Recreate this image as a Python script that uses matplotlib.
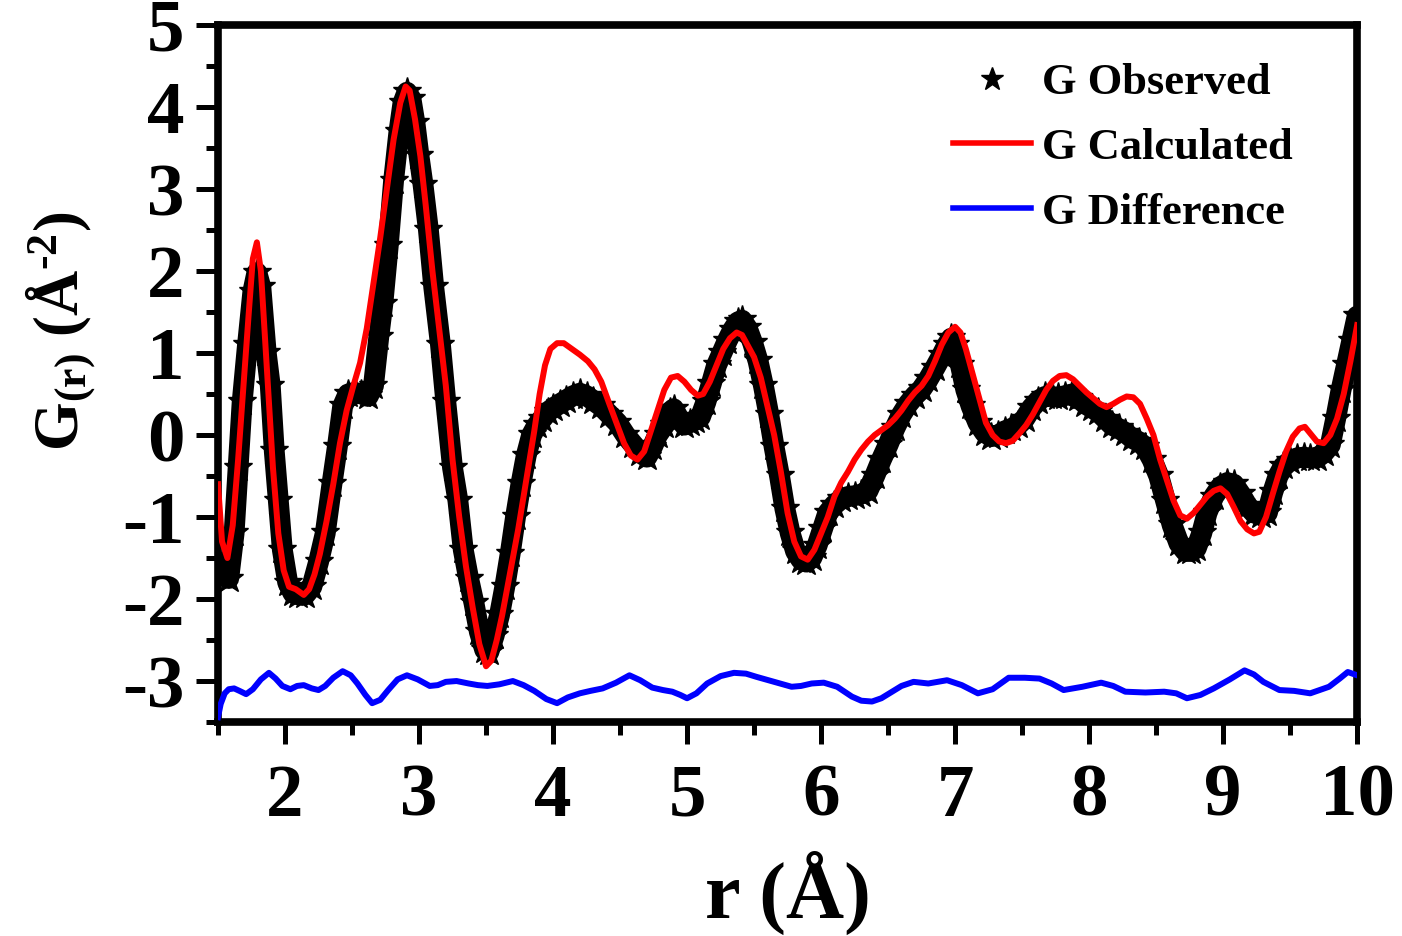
import matplotlib
matplotlib.use("Agg")
from matplotlib import pyplot as plt
from matplotlib.ticker import MultipleLocator
from matplotlib.lines import Line2D

# ---- data ----
r_obs = [1.50, 1.55, 1.58, 1.62, 1.65, 1.68, 1.72, 1.76, 1.79, 1.82, 1.86, 1.89, 1.92, 1.95, 1.98,
         2.02, 2.06, 2.10, 2.15, 2.20, 2.25, 2.30, 2.35, 2.39, 2.43, 2.47, 2.52, 2.57, 2.62, 2.66,
         2.70, 2.73, 2.77, 2.81, 2.85, 2.88, 2.91, 2.94, 2.97, 3.00, 3.03, 3.07, 3.11, 3.16, 3.20,
         3.25, 3.29, 3.33, 3.37, 3.41, 3.45, 3.49, 3.52, 3.56, 3.60, 3.64, 3.68, 3.72, 3.76, 3.80,
         3.84, 3.88, 3.92, 3.96, 4.00, 4.05, 4.10, 4.15, 4.20, 4.25, 4.30, 4.36, 4.42, 4.48, 4.54,
         4.60, 4.65, 4.70, 4.74, 4.78, 4.83, 4.87, 4.90, 4.94, 4.98, 5.02, 5.06, 5.10, 5.14, 5.18,
         5.22, 5.26, 5.30, 5.34, 5.38, 5.41, 5.45, 5.49, 5.53, 5.57, 5.61, 5.65, 5.69, 5.73, 5.77,
         5.81, 5.85, 5.89, 5.93, 5.97, 6.01, 6.05, 6.10, 6.15, 6.20, 6.25, 6.30, 6.35, 6.40, 6.45,
         6.50, 6.55, 6.60, 6.65, 6.70, 6.75, 6.80, 6.85, 6.90, 6.94, 6.97, 7.00, 7.04, 7.08, 7.12,
         7.17, 7.22, 7.27, 7.32, 7.37, 7.42, 7.47, 7.52, 7.57, 7.62, 7.67, 7.72, 7.77, 7.82, 7.87,
         7.92, 7.97, 8.02, 8.07, 8.12, 8.17, 8.22, 8.27, 8.32, 8.37, 8.42, 8.47, 8.52, 8.57, 8.62,
         8.67, 8.72, 8.76, 8.80, 8.84, 8.88, 8.93, 8.98, 9.03, 9.08, 9.13, 9.18, 9.23, 9.28, 9.33,
         9.37, 9.41, 9.45, 9.50, 9.55, 9.60, 9.65, 9.70, 9.75, 9.80, 9.84, 9.88, 9.92, 9.96, 10.00]
g_obs = [-1.55, -1.72, -1.75, -1.20, -0.40, 0.40, 1.10, 1.75, 1.98, 1.80, 1.00, 0.60, -0.20, -0.80, -1.40,
         -1.80, -1.93, -1.95, -1.95, -1.85, -1.55, -1.20, -0.60, -0.15, 0.35, 0.50, 0.52, 0.50, 0.47, 0.60,
         1.20, 1.60, 2.30, 3.10, 3.70, 4.05, 4.18, 4.10, 3.80, 3.40, 3.05, 2.50, 1.80, 1.10, 0.40,
         -0.40, -0.80, -1.40, -1.75, -2.05, -2.40, -2.62, -2.65, -2.45, -2.20, -1.85, -1.45, -1.00, -0.60, -0.25,
         0.00, 0.12, 0.20, 0.28, 0.33, 0.38, 0.43, 0.48, 0.51, 0.48, 0.42, 0.35, 0.25, 0.15, 0.00,
         -0.12, -0.22, -0.27, -0.15, 0.00, 0.12, 0.28, 0.32, 0.20, 0.12, 0.15, 0.18, 0.22, 0.40, 0.62,
         0.85, 1.00, 1.15, 1.28, 1.38, 1.40, 1.30, 1.12, 0.90, 0.60, 0.25, -0.15, -0.50, -0.90, -1.20,
         -1.42, -1.52, -1.55, -1.50, -1.35, -1.15, -0.95, -0.85, -0.78, -0.75, -0.74, -0.72, -0.68, -0.50, -0.30,
         -0.12, 0.08, 0.25, 0.38, 0.48, 0.56, 0.68, 0.82, 0.97, 1.10, 1.18, 1.10, 0.85, 0.55, 0.35,
         0.15, 0.03, -0.02, 0.00, 0.05, 0.08, 0.12, 0.20, 0.33, 0.42, 0.47, 0.47, 0.46, 0.48, 0.50,
         0.45, 0.38, 0.33, 0.28, 0.20, 0.12, 0.08, 0.03, -0.04, -0.08, -0.15, -0.30, -0.50, -0.80, -1.10,
         -1.32, -1.42, -1.42, -1.38, -1.20, -0.95, -0.75, -0.63, -0.58, -0.60, -0.72, -0.86, -0.95, -0.98, -0.95,
         -0.70, -0.50, -0.38, -0.32, -0.28, -0.27, -0.28, -0.28, -0.22, -0.12, 0.20, 0.55, 0.85, 1.15, 1.45]

r_calc = [1.50, 1.53, 1.57, 1.61, 1.65, 1.69, 1.73, 1.76, 1.79, 1.82, 1.85, 1.88, 1.91, 1.95, 1.99,
          2.03, 2.08, 2.14, 2.18, 2.22, 2.26, 2.31, 2.36, 2.41, 2.46, 2.51, 2.56, 2.61, 2.66, 2.71,
          2.76, 2.81, 2.86, 2.90, 2.93, 2.97, 3.01, 3.05, 3.10, 3.15, 3.20, 3.25, 3.30, 3.35, 3.40,
          3.45, 3.50, 3.54, 3.58, 3.62, 3.66, 3.70, 3.74, 3.78, 3.82, 3.86, 3.90, 3.94, 3.98, 4.03,
          4.08, 4.14, 4.20, 4.26, 4.31, 4.36, 4.42, 4.48, 4.53, 4.58, 4.63, 4.68, 4.73, 4.78, 4.83,
          4.88, 4.93, 4.98, 5.03, 5.08, 5.12, 5.17, 5.22, 5.27, 5.32, 5.37, 5.41, 5.45, 5.50, 5.55,
          5.60, 5.65, 5.70, 5.75, 5.80, 5.85, 5.90, 5.95, 6.00, 6.05, 6.10, 6.15, 6.20, 6.25, 6.30,
          6.35, 6.40, 6.45, 6.50, 6.55, 6.60, 6.65, 6.70, 6.75, 6.80, 6.85, 6.90, 6.95, 7.00, 7.04,
          7.08, 7.13, 7.18, 7.23, 7.28, 7.33, 7.38, 7.43, 7.48, 7.53, 7.58, 7.63, 7.68, 7.73, 7.78,
          7.83, 7.88, 7.93, 7.98, 8.03, 8.08, 8.13, 8.18, 8.23, 8.28, 8.33, 8.38, 8.43, 8.48, 8.53,
          8.58, 8.63, 8.68, 8.73, 8.78, 8.83, 8.88, 8.93, 8.98, 9.03, 9.08, 9.13, 9.18, 9.23, 9.27,
          9.32, 9.37, 9.42, 9.47, 9.52, 9.57, 9.61, 9.65, 9.70, 9.75, 9.80, 9.85, 9.90, 9.95, 10.00]
g_calc = [-0.60, -1.30, -1.50, -1.10, -0.30, 0.60, 1.50, 2.15, 2.35, 2.00, 1.20, 0.40, -0.40, -1.20, -1.65,
          -1.85, -1.88, -1.95, -1.88, -1.70, -1.45, -1.05, -0.60, -0.10, 0.30, 0.60, 0.88, 1.30, 1.85, 2.40,
          3.00, 3.60, 4.05, 4.25, 4.20, 3.85, 3.40, 2.80, 2.00, 1.30, 0.60, -0.30, -1.00, -1.60, -2.10,
          -2.55, -2.82, -2.75, -2.50, -2.20, -1.85, -1.50, -1.15, -0.75, -0.35, 0.05, 0.50, 0.85, 1.05, 1.12,
          1.12, 1.05, 0.98, 0.90, 0.80, 0.65, 0.38, 0.12, -0.10, -0.25, -0.30, -0.20, 0.05, 0.30, 0.55,
          0.70, 0.72, 0.65, 0.55, 0.48, 0.50, 0.65, 0.85, 1.05, 1.18, 1.25, 1.22, 1.10, 0.95, 0.70,
          0.35, 0.00, -0.45, -0.95, -1.30, -1.48, -1.52, -1.40, -1.20, -1.00, -0.75, -0.58, -0.45, -0.30, -0.18,
          -0.08, 0.00, 0.06, 0.12, 0.20, 0.30, 0.42, 0.52, 0.60, 0.72, 0.90, 1.10, 1.25, 1.32, 1.25,
          1.05, 0.75, 0.45, 0.15, 0.00, -0.08, -0.10, -0.07, 0.02, 0.12, 0.25, 0.40, 0.55, 0.66, 0.72,
          0.73, 0.68, 0.60, 0.52, 0.45, 0.38, 0.34, 0.38, 0.43, 0.47, 0.46, 0.38, 0.20, 0.00, -0.30,
          -0.55, -0.80, -0.98, -1.02, -0.95, -0.85, -0.75, -0.68, -0.65, -0.72, -0.88, -1.05, -1.15, -1.20, -1.18,
          -1.00, -0.72, -0.45, -0.20, -0.02, 0.08, 0.10, 0.02, -0.08, -0.10, 0.00, 0.20, 0.50, 0.90, 1.34]

r_diff = [1.50, 1.52, 1.55, 1.58, 1.62, 1.66, 1.71, 1.76, 1.82, 1.88, 1.93, 1.98, 2.04, 2.09, 2.14,
          2.20, 2.25, 2.30, 2.36, 2.43, 2.49, 2.54, 2.60, 2.65, 2.71, 2.77, 2.84, 2.91, 2.99, 3.08,
          3.14, 3.20, 3.28, 3.37, 3.44, 3.51, 3.60, 3.70, 3.78, 3.86, 3.95, 4.03, 4.11, 4.20, 4.28,
          4.37, 4.47, 4.57, 4.65, 4.74, 4.82, 4.89, 4.95, 5.00, 5.07, 5.15, 5.25, 5.35, 5.44, 5.52,
          5.65, 5.78, 5.85, 5.93, 6.02, 6.12, 6.23, 6.30, 6.38, 6.45, 6.51, 6.60, 6.69, 6.80, 6.94,
          7.05, 7.17, 7.28, 7.40, 7.52, 7.63, 7.72, 7.81, 7.95, 8.09, 8.18, 8.27, 8.42, 8.56, 8.65,
          8.73, 8.83, 8.93, 9.05, 9.16, 9.23, 9.30, 9.42, 9.53, 9.65, 9.79, 9.87, 9.93, 10.00]
g_diff = [-3.44, -3.28, -3.15, -3.10, -3.09, -3.12, -3.16, -3.10, -2.98, -2.90, -2.97, -3.06, -3.10, -3.06, -3.05,
          -3.09, -3.11, -3.06, -2.96, -2.88, -2.93, -3.03, -3.17, -3.27, -3.23, -3.11, -2.98, -2.93, -2.98, -3.06,
          -3.05, -3.01, -3.00, -3.03, -3.05, -3.06, -3.04, -3.00, -3.05, -3.12, -3.22, -3.27, -3.20, -3.15, -3.12,
          -3.09, -3.02, -2.93, -2.99, -3.08, -3.11, -3.13, -3.17, -3.21, -3.15, -3.03, -2.94, -2.90, -2.91, -2.95,
          -3.01, -3.07, -3.06, -3.03, -3.02, -3.07, -3.19, -3.24, -3.25, -3.21, -3.15, -3.06, -3.01, -3.03, -2.99,
          -3.05, -3.15, -3.10, -2.96, -2.96, -2.97, -3.03, -3.11, -3.07, -3.02, -3.06, -3.13, -3.14, -3.13, -3.15,
          -3.21, -3.17, -3.09, -2.98, -2.87, -2.92, -3.01, -3.11, -3.12, -3.15, -3.07, -2.97, -2.89, -2.93]

plt.rcParams['font.family'] = 'Liberation Serif'
plt.rcParams['font.weight'] = 'bold'
plt.rcParams['mathtext.fontset'] = 'custom'
plt.rcParams['mathtext.rm'] = 'Liberation Serif:bold'
plt.rcParams['mathtext.bf'] = 'Liberation Serif:bold'
plt.rcParams['mathtext.default'] = 'bf'
plt.rcParams['axes.unicode_minus'] = False

fig = plt.figure(figsize=(14.02, 9.36), dpi=100, facecolor='white')
ax = fig.add_axes([0.1555, 0.2286, 0.8125, 0.7447])

# observed: thick band with star markers on top
ax.plot(r_obs, g_obs, color='black', lw=15, solid_capstyle='round', solid_joinstyle='round', zorder=2)
ax.plot(r_obs, g_obs, ls='none', marker='*', ms=21, color='black', zorder=2)
ax.plot(r_calc, g_calc, color='#ff0000', lw=4.3, zorder=3)
ax.plot(r_diff, g_diff, color='#0000ff', lw=4.3, zorder=3)

ax.set_xlim(1.5, 10)
ax.set_ylim(-3.5, 5)
ax.xaxis.set_major_locator(MultipleLocator(1))
ax.xaxis.set_minor_locator(MultipleLocator(0.5))
ax.yaxis.set_major_locator(MultipleLocator(1))
ax.yaxis.set_minor_locator(MultipleLocator(0.5))

for s in ax.spines.values():
    s.set_linewidth(5.5)
ax.tick_params(which='major', direction='out', length=16, width=3.6, labelsize=54)
ax.tick_params(which='minor', direction='out', length=9, width=3.6)
ax.tick_params(axis='x', which='major', pad=14)
ax.tick_params(axis='y', which='major', pad=8)

ax.set_xlabel('r (Å)', fontsize=58, fontweight='bold')
ax.xaxis.set_label_coords(0.5, -0.185)
ax.set_ylabel(r'G$_{(r)}$ (Å$^{\text{-2}}$)', fontsize=45, fontweight='bold')
ax.yaxis.set_label_coords(-0.105, 0.56)

handles = [Line2D([], [], ls='none', marker='*', ms=17, color='black'),
           Line2D([], [], color='#ff0000', lw=4),
           Line2D([], [], color='#0000ff', lw=4)]
ax.legend(handles, ['G Observed', 'G Calculated', 'G Difference'],
          loc='upper left', bbox_to_anchor=(0.645, 0.945), frameon=False,
          prop={'family': 'Liberation Serif', 'weight': 'bold', 'size': 32},
          handlelength=1.75, handletextpad=0.25, labelspacing=0.55,
          borderpad=0, borderaxespad=0)

fig.savefig('out.png', dpi=100)
